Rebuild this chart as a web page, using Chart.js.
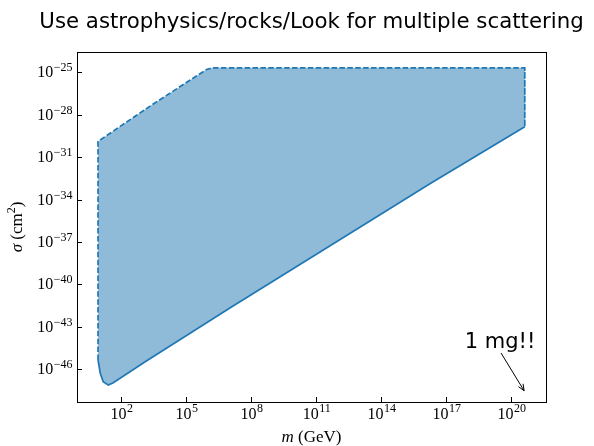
<!DOCTYPE html>
<html>
<head>
<meta charset="utf-8">
<script src="https://cdn.jsdelivr.net/npm/chart.js@4.4.1/dist/chart.umd.min.js"></script>
<style>
  html, body { margin: 0; padding: 0; background: #fff; }
</style>
</head>
<body>
<canvas id="chart" width="594" height="446"></canvas>
<script>
'use strict';

// ─── Data ────────────────────────────────────────────────
// closed outline of the excluded region, m in GeV, sigma in cm^2
const massGeV = [8.7, 8.7, 3.1e3, 8.9e5, 1.8e6, 4.3e20, 4.3e20, 1.8e16, 1.1e7, 1.3e3, 44, 26, 15, 11, 8.7];
const sigmaCm2 = [4.4e-46, 1.3e-30, 5.8e-28, 1.6e-25, 2.1e-25, 2.1e-25, 1.4e-29, 1.3e-33, 2.2e-42, 3.3e-46, 1.1e-47, 7.4e-48, 1.3e-47, 5.0e-47, 4.4e-46];
const dashedUpTo = 5; // segments starting at index <= this are dashed

const xTickVals = [1e2, 1e5, 1e8, 1e11, 1e14, 1e17, 1e20];
const xTickExps = ['2', '5', '8', '11', '14', '17', '20'];
const yTickVals = [1e-46, 1e-43, 1e-40, 1e-37, 1e-34, 1e-31, 1e-28, 1e-25];
const yTickExps = ['−46', '−43', '−40', '−37', '−34', '−31', '−28', '−25'];

const titleText = 'Use astrophysics/rocks/Look for multiple scattering';
const noteText = '1 mg!!';
const noteAt = [3.1e19, 3.1e-45];
const noteTip = [4.0e20, 2.95e-48];

const BLUE = '#1f77b4';
const SERIF = '"Liberation Serif", "DejaVu Serif", serif';
const SANS = '"DejaVu Sans", sans-serif';

// ─── Decorations: frame, inward ticks, math labels ───────
function drawPow(c, x, baseline, exp, align) {
  c.font = '16px ' + SERIF;
  const w1 = c.measureText('10').width;
  c.font = '12px ' + SERIF;
  const w2 = c.measureText(exp).width;
  const x0 = align === 'center' ? x - (w1 + w2) / 2 : x - (w1 + w2);
  c.textAlign = 'left';
  c.textBaseline = 'alphabetic';
  c.font = '16px ' + SERIF;
  c.fillText('10', x0, baseline);
  c.font = '12px ' + SERIF;
  c.fillText(exp, x0 + w1 + 0.5, baseline - 6.5);
}

const decor = {
  id: 'decor',
  afterDraw(chart) {
    const c = chart.ctx;
    const a = chart.chartArea;
    const xs = chart.scales.x, ys = chart.scales.y;
    c.save();
    c.fillStyle = '#000';
    c.strokeStyle = '#000';
    c.lineWidth = 1;

    // frame
    c.strokeRect(Math.round(a.left) + 0.5, Math.round(a.top) + 0.5,
      Math.round(a.right - a.left), Math.round(a.bottom - a.top));

    // x ticks + labels
    xTickVals.forEach((v, i) => {
      const px = Math.round(xs.getPixelForValue(v)) + 0.5;
      c.beginPath(); c.moveTo(px, a.bottom); c.lineTo(px, a.bottom - 5); c.stroke();
      drawPow(c, px, a.bottom + 16.5, xTickExps[i], 'center');
    });
    // y ticks + labels
    yTickVals.forEach((v, i) => {
      const py = Math.round(ys.getPixelForValue(v)) + 0.5;
      c.beginPath(); c.moveTo(a.left, py); c.lineTo(a.left + 5, py); c.stroke();
      drawPow(c, a.left - 5, py + 4.5, yTickExps[i], 'right');
    });

    // x axis label: m (GeV)
    c.textBaseline = 'alphabetic';
    c.textAlign = 'left';
    c.font = 'italic 17px ' + SERIF;
    const wm = c.measureText('m').width;
    c.font = '17px ' + SERIF;
    const wr = c.measureText(' (GeV)').width;
    const cx = (a.left + a.right) / 2;
    let x0 = cx - (wm + wr) / 2;
    c.font = 'italic 17px ' + SERIF;
    c.fillText('m', x0, 442);
    c.font = '17px ' + SERIF;
    c.fillText(' (GeV)', x0 + wm, 442);

    // y axis label: sigma (cm^2)
    c.save();
    c.translate(22, (a.top + a.bottom) / 2);
    c.rotate(-Math.PI / 2);
    c.font = 'italic 17px ' + SERIF;
    const ws = c.measureText('σ').width;
    c.font = '17px ' + SERIF;
    const wa = c.measureText(' (cm').width;
    c.font = '12px ' + SERIF;
    const w2 = c.measureText('2').width;
    c.font = '17px ' + SERIF;
    const wb = c.measureText(')').width;
    x0 = -(ws + wa + w2 + wb) / 2;
    c.font = 'italic 17px ' + SERIF;
    c.fillText('σ', x0, 0);
    c.font = '17px ' + SERIF;
    c.fillText(' (cm', x0 + ws, 0);
    c.font = '12px ' + SERIF;
    c.fillText('2', x0 + ws + wa, -7);
    c.font = '17px ' + SERIF;
    c.fillText(')', x0 + ws + wa + w2, 0);
    c.restore();

    // title
    c.font = '21.3px ' + SANS;
    c.textAlign = 'center';
    c.fillText(titleText, cx, 28);

    // annotation with arrow
    const tx = xs.getPixelForValue(noteAt[0]);
    const ty = ys.getPixelForValue(noteAt[1]);
    const hx = xs.getPixelForValue(noteTip[0]);
    const hy = ys.getPixelForValue(noteTip[1]);
    c.font = '21px ' + SANS;
    c.fillText(noteText, tx, ty);
    const sx = tx + 1, sy = ty + 5;
    c.beginPath(); c.moveTo(sx, sy); c.lineTo(hx, hy); c.stroke();
    const ang = Math.atan2(hy - sy, hx - sx);
    c.beginPath();
    c.moveTo(hx - 7 * Math.cos(ang - 0.4), hy - 7 * Math.sin(ang - 0.4));
    c.lineTo(hx, hy);
    c.lineTo(hx - 7 * Math.cos(ang + 0.4), hy - 7 * Math.sin(ang + 0.4));
    c.stroke();
    c.restore();
  },
};

// ─── Chart ───────────────────────────────────────────────
const points = massGeV.map((m, i) => ({ x: m, y: sigmaCm2[i] }));

new Chart(document.getElementById('chart').getContext('2d'), {
  type: 'scatter',
  data: {
    datasets: [
      {
        // outline: dashed limits, solid lower bound
        data: points,
        showLine: true,
        fill: false,
        borderColor: BLUE,
        borderWidth: 1.7,
        pointRadius: 0,
        segment: {
          borderDash: s => (s.p0DataIndex <= dashedUpTo ? [5.5, 2.4] : []),
        },
      },
      {
        // filled region, one piece so there are no seams
        data: points,
        showLine: true,
        fill: 'shape',
        backgroundColor: 'rgba(31,119,180,0.5)',
        borderWidth: 0,
        borderColor: 'rgba(0,0,0,0)',
        pointRadius: 0,
      },
    ],
  },
  options: {
    responsive: false,
    animation: false,
    devicePixelRatio: 1,
    layout: { padding: { top: 52, right: 48, left: 0, bottom: 0 } },
    plugins: { legend: { display: false }, tooltip: { enabled: false }, title: { display: false } },
    scales: {
      x: {
        type: 'logarithmic',
        min: 0.93, max: 4.1e21,
        grid: { display: false },
        border: { display: false },
        ticks: { display: false },
        afterFit: s => { s.height = 44; },
      },
      y: {
        type: 'logarithmic',
        min: 4.7e-49, max: 2.75e-24,
        grid: { display: false },
        border: { display: false },
        ticks: { display: false },
        afterFit: s => { s.width = 77; },
      },
    },
  },
  plugins: [decor],
});
</script>
</body>
</html>
